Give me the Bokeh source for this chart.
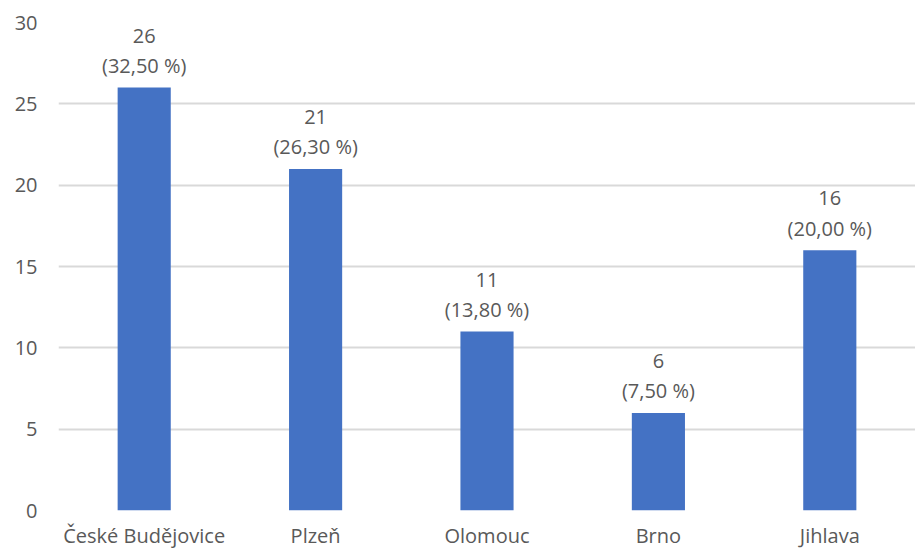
from bokeh.plotting import figure
from bokeh.models import ColumnDataSource, Range1d, FixedTicker
from bokeh.core.properties import value
from bokeh.embed import file_html
from bokeh.resources import INLINE

# Počet respondentů podle města
cities = ["České Budějovice", "Plzeň", "Olomouc", "Brno", "Jihlava"]
counts = [26, 21, 11, 6, 16]
shares = [32.50, 26.30, 13.80, 7.50, 20.00]
y_ticks = [0, 5, 10, 15, 20, 25, 30]

FONT = "Open Sans"
TEXT_COLOR = "#595959"
FONT_SIZE = "20px"

src = ColumnDataSource(data=dict(
    city=cities,
    count=counts,
    count_label=[str(c) for c in counts],
    share_label=["({:.2f} %)".format(s).replace(".", ",") for s in shares],
))

p = figure(
    x_range=cities,
    y_range=Range1d(0, 30),
    width=915, height=551,
    output_backend="svg",
    toolbar_location=None,
    min_border_left=58, min_border_right=0,
    min_border_top=22, min_border_bottom=0,
)
p.outline_line_color = None
p.background_fill_color = "white"
p.border_fill_color = "white"

p.vbar(x="city", top="count", width=0.31, source=src,
       fill_color="#4472C4", line_color=None)

# Popisky: počet a podíl nad každým sloupcem
p.text(x="city", y="count", text="share_label", source=src,
       text_font=value(FONT), text_font_size=FONT_SIZE, text_color=TEXT_COLOR,
       text_align="center", text_baseline="middle", y_offset=-22)
p.text(x="city", y="count", text="count_label", source=src,
       text_font=value(FONT), text_font_size=FONT_SIZE, text_color=TEXT_COLOR,
       text_align="center", text_baseline="middle", y_offset=-52)

p.yaxis.ticker = FixedTicker(ticks=y_ticks)
p.ygrid.ticker = FixedTicker(ticks=y_ticks)
p.ygrid.grid_line_color = "#d9d9d9"
p.ygrid.grid_line_width = 2
p.xgrid.grid_line_color = None

for ax in (p.xaxis, p.yaxis):
    ax.axis_line_color = None
    ax.major_tick_line_color = None
    ax.minor_tick_line_color = None
    ax.major_label_text_font = FONT
    ax.major_label_text_font_size = FONT_SIZE
    ax.major_label_text_color = TEXT_COLOR
p.yaxis.major_label_standoff = 15
p.xaxis.major_label_standoff = 5

open("out.html", "w").write(file_html(p, INLINE))
